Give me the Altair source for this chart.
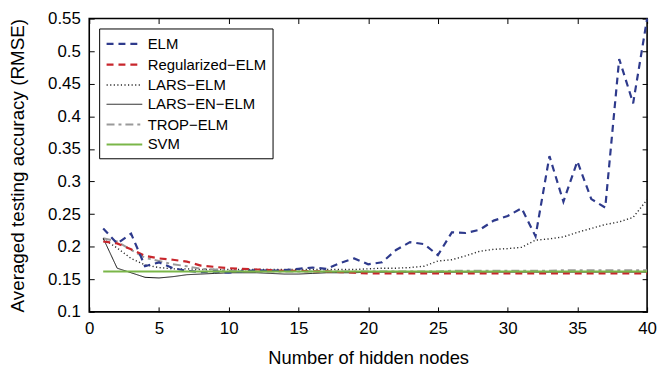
import altair as alt
import pandas as pd

nodes = list(range(1, 41))

elm = [0.228, 0.205, 0.220, 0.170, 0.176, 0.167, 0.163, 0.161, 0.162, 0.160,
       0.162, 0.164, 0.163, 0.164, 0.166, 0.168, 0.166, 0.175, 0.182, 0.173,
       0.176, 0.195, 0.207, 0.204, 0.187, 0.222, 0.221, 0.226, 0.240, 0.247,
       0.259, 0.216, 0.339, 0.269, 0.331, 0.273, 0.260, 0.488, 0.420, 0.550]
reg_elm = [0.208, 0.205, 0.196, 0.186, 0.182, 0.180, 0.177, 0.171, 0.169, 0.167,
           0.166, 0.165, 0.164, 0.163, 0.163, 0.162, 0.162, 0.161, 0.160, 0.159,
           0.159, 0.159, 0.159, 0.159, 0.159, 0.159, 0.159, 0.159, 0.159, 0.159,
           0.159, 0.159, 0.159, 0.159, 0.159, 0.159, 0.159, 0.159, 0.159, 0.159]
lars_elm = [0.212, 0.198, 0.182, 0.172, 0.168, 0.166, 0.166, 0.165, 0.165, 0.165,
            0.165, 0.165, 0.165, 0.165, 0.165, 0.165, 0.165, 0.165, 0.165, 0.166,
            0.167, 0.167, 0.168, 0.170, 0.178, 0.180, 0.186, 0.193, 0.196, 0.197,
            0.199, 0.210, 0.212, 0.215, 0.222, 0.228, 0.234, 0.238, 0.245, 0.272]
lars_en_elm = [0.213, 0.167, 0.160, 0.153, 0.152, 0.154, 0.157, 0.158, 0.159, 0.160,
               0.160, 0.160, 0.159, 0.158, 0.158, 0.159, 0.160, 0.160, 0.160, 0.161,
               0.161, 0.161, 0.161, 0.161, 0.161, 0.161, 0.161, 0.161, 0.161, 0.161,
               0.161, 0.161, 0.161, 0.161, 0.161, 0.161, 0.161, 0.161, 0.161, 0.161]
trop_elm = [0.213, 0.208, 0.195, 0.183, 0.178, 0.173, 0.170, 0.166, 0.165, 0.163,
            0.163, 0.162, 0.162, 0.162, 0.162, 0.162, 0.162, 0.162, 0.162, 0.162,
            0.162, 0.162, 0.162, 0.162, 0.162, 0.163, 0.163, 0.163, 0.163, 0.163,
            0.163, 0.163, 0.163, 0.164, 0.164, 0.164, 0.164, 0.164, 0.164, 0.164]
svm = [0.162] * 40

series_names = ["ELM", "Regularized-ELM", "LARS-ELM", "LARS-EN-ELM", "TROP-ELM", "SVM"]
series_values = [elm, reg_elm, lars_elm, lars_en_elm, trop_elm, svm]
colors = ["#2e3a8c", "#c8262c", "#2a2a2a", "#111111", "#9a9a9a", "#7ab648"]
dashes = [[7, 5], [7, 5], [1.2, 2.4], [1, 0], [8, 4, 3, 4], [1, 0]]
widths = [2.2, 2.2, 1.4, 1.0, 2.0, 2.0]

draw_order = ["LARS-ELM", "TROP-ELM", "LARS-EN-ELM", "Regularized-ELM", "ELM", "SVM"]
lookup = dict(zip(series_names, series_values))
rows = []
for name in draw_order:
    for x, v in zip(nodes, lookup[name]):
        rows.append({"nodes": x, "rmse": v, "series": name})
df = pd.DataFrame(rows)

x_ticks = [0, 5, 10, 15, 20, 25, 30, 35, 40]
y_ticks = [0.1, 0.15, 0.2, 0.25, 0.3, 0.35, 0.4, 0.45, 0.5, 0.55]

FONT = "Liberation Sans"
xscale = alt.Scale(domain=[0, 40], nice=False, zero=False)
yscale = alt.Scale(domain=[0.1, 0.55], nice=False, zero=False)

legend = alt.Legend(
    title=None, orient="none", legendX=10, legendY=10,
    symbolType="M-1,0H3.5", symbolSize=256, labelFontSize=15, labelFont=FONT,
    labelColor="black", fillColor="white", strokeColor="black", padding=6,
    rowPadding=3, labelOffset=24, cornerRadius=0,
    labelExpr="replace(datum.label, /-/g, '\u2212')",
)

base = alt.Chart(df)

lines = base.mark_line().encode(
    x=alt.X("nodes:Q", scale=xscale,
            axis=alt.Axis(orient="bottom", title="Number of hidden nodes", values=x_ticks,
                          ticks=False, tickSize=0, domain=False, grid=False, labelFlush=False,
                          labelPadding=9, titlePadding=12, labelFontSize=17,
                          titleFontSize=18.5)),
    y=alt.Y("rmse:Q", scale=yscale,
            axis=alt.Axis(orient="left", title="Averaged testing accuracy (RMSE)",
                          values=y_ticks, format=".2~f", ticks=False, tickSize=0,
                          domain=False, grid=False, labelPadding=9, titlePadding=20,
                          labelFontSize=17, titleFontSize=19)),
    color=alt.Color("series:N", scale=alt.Scale(domain=series_names, range=colors), legend=legend),
    strokeDash=alt.StrokeDash("series:N", scale=alt.Scale(domain=series_names, range=dashes), legend=legend),
    strokeWidth=alt.StrokeWidth("series:N", scale=alt.Scale(type="ordinal", domain=series_names, range=widths), legend=legend),
)

ticks_bl = base.mark_line(opacity=0).encode(
    x=alt.X("nodes:Q", scale=xscale,
            axis=alt.Axis(orient="bottom", title=None, labels=False, domain=False, grid=False,
                          ticks=True, tickSize=5, offset=-5, values=x_ticks, tickColor="black")),
    y=alt.Y("rmse:Q", scale=yscale,
            axis=alt.Axis(orient="left", title=None, labels=False, domain=False, grid=False,
                          ticks=True, tickSize=5, offset=-5, values=y_ticks, tickColor="black")),
)

ticks_tr = base.mark_line(opacity=0).encode(
    x=alt.X("nodes:Q", scale=xscale,
            axis=alt.Axis(orient="top", title=None, labels=False, domain=False, grid=False,
                          ticks=True, tickSize=5, offset=-5, values=x_ticks, tickColor="black")),
    y=alt.Y("rmse:Q", scale=yscale,
            axis=alt.Axis(orient="right", title=None, labels=False, domain=False, grid=False,
                          ticks=True, tickSize=5, offset=-5, values=y_ticks, tickColor="black")),
)

chart = alt.layer(lines, ticks_bl, ticks_tr).resolve_axis(
    x="independent", y="independent"
).properties(
    width=563, height=296, padding={"left": 0, "top": 0, "right": 0, "bottom": 0}
).configure_view(
    stroke="black", strokeWidth=1.6
).configure_axis(
    labelFont=FONT, titleFont=FONT, labelColor="black", titleColor="black",
    titleFontWeight="normal"
).configure_legend(
    labelFont=FONT
)

chart.save("out.html", embed_options={"renderer": "svg", "actions": False})
